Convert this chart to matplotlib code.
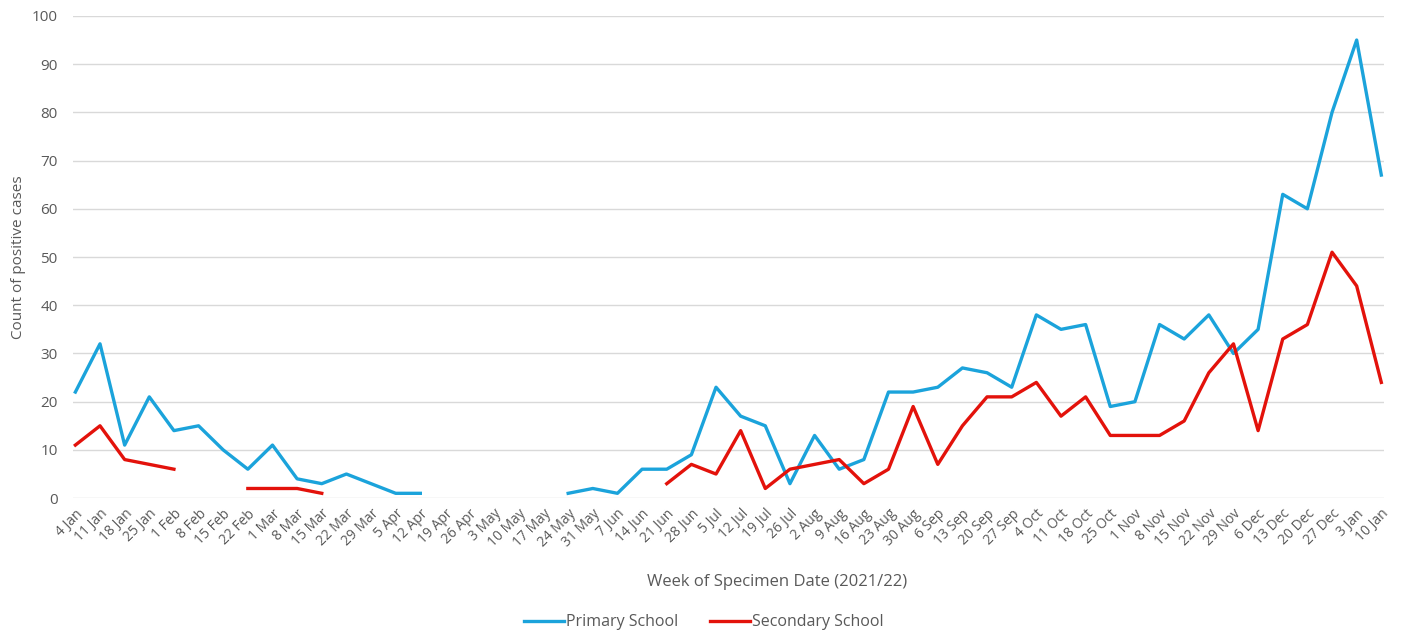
import numpy as np
import matplotlib
matplotlib.use("Agg")
import matplotlib.pyplot as plt

nan = np.nan

weeks = [
    "4 Jan", "11 Jan", "18 Jan", "25 Jan", "1 Feb", "8 Feb", "15 Feb", "22 Feb",
    "1 Mar", "8 Mar", "15 Mar", "22 Mar", "29 Mar", "5 Apr", "12 Apr", "19 Apr",
    "26 Apr", "3 May", "10 May", "17 May", "24 May", "31 May", "7 Jun", "14 Jun",
    "21 Jun", "28 Jun", "5 Jul", "12 Jul", "19 Jul", "26 Jul", "2 Aug", "9 Aug",
    "16 Aug", "23 Aug", "30 Aug", "6 Sep", "13 Sep", "20 Sep", "27 Sep", "4 Oct",
    "11 Oct", "18 Oct", "25 Oct", "1 Nov", "8 Nov", "15 Nov", "22 Nov", "29 Nov",
    "6 Dec", "13 Dec", "20 Dec", "27 Dec", "3 Jan", "10 Jan",
]

primary = [
    22, 32, 11, 21, 14, 15, 10, 6,
    11, 4, 3, 5, 3, 1, 1, nan,
    nan, nan, nan, nan, 1, 2, 1, 6,
    6, 9, 23, 17, 15, 3, 13, 6,
    8, 22, 22, 23, 27, 26, 23, 38,
    35, 36, 19, 20, 36, 33, 38, 30,
    35, 63, 60, 80, 95, 67,
]

secondary = [
    11, 15, 8, 7, 6, nan, nan, 2,
    2, 2, 1, nan, nan, nan, nan, nan,
    nan, nan, nan, nan, nan, nan, nan, nan,
    3, 7, 5, 14, 2, 6, 7, 8,
    3, 6, 19, 7, 15, 21, 21, 24,
    17, 21, 13, 13, 13, 16, 26, 32,
    14, 33, 36, 51, 44, 24,
]

plt.rcParams["font.family"] = ["Open Sans", "DejaVu Sans"]
text_col = "#595959"

fig = plt.figure(figsize=(14.02, 6.37), dpi=100)
ax = fig.add_axes([0.052, 0.218, 0.935, 0.757])

x = np.arange(len(weeks))
ax.plot(x, primary, color="#1BA3DB", lw=2.4, label="Primary School")
ax.plot(x, secondary, color="#E3120B", lw=2.4, label="Secondary School")

ax.set_xlim(-0.1, len(weeks) - 0.9)
ax.set_ylim(0, 100)
ax.set_yticks(range(0, 101, 10))
ax.set_xticks(x)
ax.set_xticklabels(weeks, rotation=45, ha="right", rotation_mode="anchor",
                   fontsize=10, color=text_col)
ax.tick_params(axis="y", labelsize=11, labelcolor=text_col, length=0, pad=11)
ax.tick_params(axis="x", length=0, pad=6)
ax.grid(axis="y", color="#D9D9D9", lw=1)
ax.set_axisbelow(True)
for s in ax.spines.values():
    s.set_visible(False)

ax.set_ylabel("Count of positive cases", fontsize=11, color=text_col, labelpad=4)
ax.set_xlabel("Week of Specimen Date (2021/22)", fontsize=12, color=text_col)
ax.xaxis.set_label_coords(0.537, -0.158)

fig.legend(loc="center", bbox_to_anchor=(0.502, 0.023), ncol=2, frameon=False,
           fontsize=11.5, labelcolor=text_col, handlelength=2.5, handletextpad=0.1,
           columnspacing=2.0)

fig.savefig("out.png", dpi=100)
